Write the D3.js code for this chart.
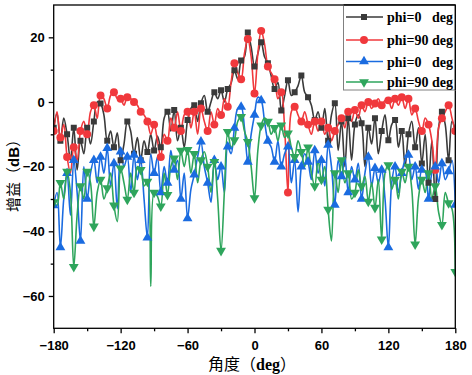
<!DOCTYPE html>
<html><head><meta charset="utf-8">
<script src="https://cdn.jsdelivr.net/npm/d3@7"></script>
<style>
html,body{margin:0;padding:0;background:#fff;}
svg{display:block;}
</style></head>
<body><svg id="c" width="472" height="375"></svg>
<script>
// Angles (deg), 3-degree steps from -180 to 180
const angles = d3.range(-180, 181, 3);

// Series 1: phi=0 deg (black, squares)
const black0 = [-8,-3.5,-12,-5,-10,-18,-8,-21,-12,-16,-8,-13,-6,0,-0.5,-4,-12,-9,-14,-9.5,-18,-13,-6,-9,-16,-11,-18,-12,-15.5,-10,-15,-10.5,-14,-5,-3,-9,-2.5,-12,-8,-14,-5.6,-2,-1,-6,-0.4,2,-3,0,3,1,3.6,0,4,5.8,9.8,7,12.8,14,21.5,17,11,15,18.5,14,12,8,4,6,-2.6,2,6.7,2,3,5,8.2,3,1.5,-1,-5.6,-3,-8,-2,-12,-4,-0.4,-15,-6,-20,-5,-18,-7,-4,-6.6,-20,-8,-13,-5,-16,-9,-4,-11.8,-7,-5.6,-14,-9,-20,-10,-6,-14,-8,-19,-10,-25,-12,-30,-8,-3,-7,-18,-6,-9];

// Series 2: phi=90 deg (red, circles)
const red90 = [-9,-3,-11,-7,-17,-22,-14,-18,-9,-6,-10,-3,-1,-5,2,1,-2,2,3,1,1,-1,1.5,1,0,-1,-3,-4,-6,-10,-7,-12,-17,-10,-12,-5,-8,-3,-9,-4,-3,-8,-3,-10,-2,-6,-9,-3,-7,-2,-4,1,-1.5,6,12,9,7,15,19.5,14,2.6,15,22,18,11,9,7,1,3,-8,-28,-3,-1.5,-4,-6,-3,-7,-10,-6,-9,-6,-10,-8,-12,-9,-7,-5,-8,-3,-6,-2.5,-5,-1,-3,0,-2,-0.5,1,-1,0.5,0.5,-2,1,-1,1.5,-2,1,-4,-2,-6,-9,-5,-7,-12,-21,-8,-5,-3,-1,-5,-9];

// Series 3: phi=0 deg (blue, up triangles)
const blue0 = [-32,-28,-45,-30,-22,-35,-18,-28,-43,-20,-30,-22,-18,-25,-17,-22,-14.3,-26,-19,-33,-15.4,-20,-17,-28,-16.4,-24,-18,-30,-42,-16,-22,-17,-28,-20,-25,-15,-21,-18,-30,-22,-36,-27,-22.5,-17,-12.3,-20,-25,-31,-18,-24,-20,-28,-13.8,-16,-8,-2,-1.5,-8,-18.5,-10,-4,1.5,0.5,-6,-12,-14,-18.5,-12,-20,-16,-13.8,-25,-18,-34,-20,-16,-18.5,-24,-15,-22,-18,-26,-13.3,-20,-31.8,-18,-23,-17,-28,-20,-24,-19,-30,-22,-17,-26,-20.5,-25,-21,-30,-45,-25,-20,-28,-22,-18,-16.4,-24,-20,-27,-21,-21.5,-30,-22,-20,-25,-19,-24,-21.5,-18,-31.8];

// Series 4: phi=90 deg (green, down triangles)
const green90 = [-31,-32,-25,-30,-21.5,-28,-51,-35,-26,-30,-21.5,-25,-38.5,-28,-24,-30,-26.6,-22,-32,-37,-20.5,-25,-30.2,-22,-28,-20,-21,-26,-24.6,-57,-28,-29.2,-32.3,-22,-28.7,-20,-17.4,-24,-15,-20,-14.8,-22,-16,-25,-18,-15.4,-20,-28,-18.5,-30,-46,-27.7,-9.2,-14,-11.8,-6,-4.6,-9,-12.3,-20,-29.7,-15,-7.2,-5,-6.1,-10,-8,-12,-7.2,-11,-9.7,-14,-17,-12,-15.4,-20,-14,-22,-26,-18,-24,-20,-33.3,-43,-22,-28,-18,-25,-22,-30,-28,-21,-26,-23,-30.8,-25,-32.7,-24,-42.5,-22,-19.5,-27,-24,-30,-21.5,-25,-20,-27,-44,-29.7,-24,-28,-22,-30,-26,-34,-38,-28,-31.3,-33,-52.5];

const xTicks = [-180,-120,-60,0,60,120,180];
const yTicks = [-60,-40,-20,0,20];
const legendLabels = ["phi=0   deg","phi=90 deg","phi=0   deg","phi=90 deg"];

const series = [
  {vals: black0, color: "#3a3a3a", sym: d3.symbolSquare, size: 36, rot: 0},
  {vals: red90, color: "#f0383c", sym: d3.symbolCircle, size: 50, rot: 0},
  {vals: blue0, color: "#1a6be0", sym: d3.symbolTriangle, size: 42, rot: 0},
  {vals: green90, color: "#2ea55c", sym: d3.symbolTriangle, size: 42, rot: 180}
];

const svg = d3.select("#c");
const L = 53.7, R = 455.3, T = 5, B = 328.3;
const x = d3.scaleLinear().domain([-180,180]).range([L,R]);
const y = d3.scaleLinear().domain([-70,30]).range([B,T]);

svg.append("defs").append("clipPath").attr("id","clip")
  .append("rect").attr("x",L).attr("y",T).attr("width",R-L).attr("height",B-T);

const g = svg.append("g").attr("clip-path","url(#clip)");
const line = d3.line().x((d,i)=>x(angles[i])).y(d=>y(d)).curve(d3.curveCatmullRom.alpha(0.5));

series.forEach(s=>{
  g.append("path").attr("d", line(s.vals)).attr("fill","none")
    .attr("stroke", s.color).attr("stroke-width",1.6).attr("stroke-linejoin","round");
});
series.forEach(s=>{
  const sym = d3.symbol().type(s.sym).size(s.size);
  g.selectAll(null).data(s.vals.map((v,i)=>[angles[i],v]).filter((d,i)=>i%2===0))
    .enter().append("path").attr("d", sym)
    .attr("transform", d=>`translate(${x(d[0])},${y(d[1])}) rotate(${s.rot})`)
    .attr("fill", s.color);
});

// Frame
svg.append("rect").attr("x",L).attr("y",T).attr("width",R-L).attr("height",B-T)
  .attr("fill","none").attr("stroke","#000").attr("stroke-width",1.3);

// X axis
const xa = svg.append("g").attr("transform",`translate(0,${B})`)
  .call(d3.axisBottom(x).tickValues(xTicks).tickSize(5).tickPadding(5).tickFormat(d3.format("d")));
const xm = svg.append("g").attr("transform",`translate(0,${B})`)
  .call(d3.axisBottom(x).tickValues(d3.range(-150,180,60)).tickSize(3).tickFormat(""));
// Y axis
const ya = svg.append("g").attr("transform",`translate(${L},0)`)
  .call(d3.axisLeft(y).tickValues(yTicks).tickSize(5).tickPadding(4).tickFormat(d3.format("d")));
const ym = svg.append("g").attr("transform",`translate(${L},0)`)
  .call(d3.axisLeft(y).tickValues([-50,-30,-10,10]).tickSize(3).tickFormat(""));
[xa,xm,ya,ym].forEach(a=>{
  a.select(".domain").remove();
  a.selectAll("line").attr("stroke","#000").attr("stroke-width",1.3);
  a.selectAll("text").attr("font-family","'Liberation Sans', Arial, sans-serif")
    .attr("font-weight","bold").attr("font-size","13px").attr("fill","#000");
});
xa.selectAll("text").attr("dy","0.9em");

// Axis titles
const xt = svg.append("text").attr("x",252).attr("y",370).attr("text-anchor","middle")
  .attr("font-size","16px").attr("fill","#000");
xt.append("tspan").attr("font-family","'Noto Sans CJK SC', sans-serif").text("角度（");
xt.append("tspan").attr("font-family","'Liberation Serif', serif").attr("font-weight","bold").text("deg");
xt.append("tspan").attr("font-family","'Noto Sans CJK SC', sans-serif").text("）");

const yt = svg.append("text").attr("transform","translate(19,172) rotate(-90)")
  .attr("text-anchor","middle").attr("font-size","15px").attr("fill","#000");
yt.append("tspan").attr("font-family","'Noto Sans CJK SC', sans-serif").text("增益（");
yt.append("tspan").attr("font-family","'Liberation Sans', sans-serif").attr("font-weight","bold").text("dB");
yt.append("tspan").attr("font-family","'Noto Sans CJK SC', sans-serif").text("）");

// Legend
const lg = svg.append("g");
lg.append("rect").attr("x",343.5).attr("y",T).attr("width",R-343.5).attr("height",85)
  .attr("fill","#fff").attr("stroke","#808080").attr("stroke-width",1);
svg.append("line").attr("x1",R).attr("x2",R).attr("y1",T).attr("y2",T+85).attr("stroke","#000").attr("stroke-width",1.3);
svg.append("line").attr("x1",343.5).attr("x2",R).attr("y1",T).attr("y2",T).attr("stroke","#000").attr("stroke-width",1.3);
const ly = [17, 40, 61.5, 82];
series.forEach((s,i)=>{
  lg.append("line").attr("x1",346).attr("x2",383).attr("y1",ly[i]).attr("y2",ly[i])
    .attr("stroke",s.color).attr("stroke-width",1.6);
  lg.append("path").attr("d", d3.symbol().type(s.sym).size(s.size)())
    .attr("transform",`translate(364,${ly[i]}) rotate(${s.rot})`).attr("fill",s.color);
  lg.append("text").attr("x",387).attr("y",ly[i]+5).attr("xml:space","preserve")
    .style("white-space","pre")
    .attr("font-family","'Liberation Serif','Times New Roman',serif").attr("font-weight","bold")
    .attr("font-size","14px").attr("fill","#000").text(legendLabels[i]);
});
</script></body></html>
